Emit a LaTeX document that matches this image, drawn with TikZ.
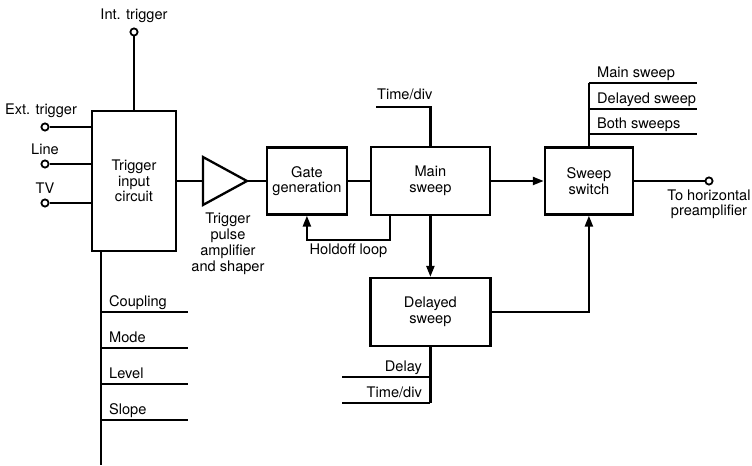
\documentclass[tikz,border=0pt]{standalone}
\usepackage{fontspec}
\setmainfont{TeX Gyre Heros}
\usetikzlibrary{arrows.meta,positioning,calc}

\begin{document}
\begin{tikzpicture}[
    x=1pt, y=1pt,
    font=\fontsize{7.3}{7.8}\selectfont,
    line width=1.15pt,
    blk/.style={rectangle, draw, align=center, inner sep=1pt},
    term/.style={circle, draw, fill=white, line width=0.9pt, inner sep=0pt, minimum size=3.6pt},
    lbl/.style={inner sep=1pt, align=center},
    arr/.style={-{Triangle[length=5.5pt, width=4pt]}}
]
    \useasboundingbox (0,0) rectangle (376,233);

    % main chain
    \node [blk, minimum width=42pt, minimum height=70pt] (trig) at (67,142.5) {Trigger\\input\\circuit};
    \coordinate (ampin) at ($(trig.east)+(12.9pt,0)$);
    \coordinate (ampout) at ($(ampin)+(22pt,0)$);
    \draw [line join=miter] ($(ampin)+(0,12pt)$) -- (ampout) -- ($(ampin)+(0,-12pt)$) -- cycle;
    \node [blk, minimum width=40pt, minimum height=33.5pt, right=9.4pt of ampout] (gate) {Gate\\generation};
    \node [blk, minimum width=59.5pt, minimum height=34pt, right=10.85pt of gate] (msweep) {Main\\sweep};
    \node [blk, minimum width=44pt, minimum height=33.5pt, right=26.35pt of msweep] (swsw) {Sweep\\switch};
    \node [blk, minimum width=60pt, minimum height=34pt, below=30.35pt of msweep] (dsweep) {Delayed\\sweep};
    \node [lbl, anchor=north, font=\fontsize{7.3}{8}\selectfont] (amplbl) at ($(ampin)+(12.5pt,-14.5pt)$) {Trigger\\pulse\\amplifier\\and shaper};

    % trigger inputs
    \node [term] (int) at (67,217) {};
    \node [term] (ext) at (22.5,169.5) {};
    \node [term] (line) at (22.5,151) {};
    \node [term] (tv) at (22.5,131.5) {};
    \node [lbl, above=1pt of int] {Int. trigger};
    \node [lbl, above=1pt of ext, xshift=-2pt] {Ext. trigger};
    \node [lbl, above=1pt of line] {Line};
    \node [lbl, above=1pt of tv] {TV};
    \draw (int) -- (int |- trig.north);
    \draw (ext) -- (ext -| trig.west);
    \draw (line) -- (line -| trig.west);
    \draw (tv) -- (tv -| trig.west);

    % trigger controls
    \coordinate (tbus) at ($(trig.south west)+(5pt,0)$);
    \draw (tbus) -- (tbus |- 0,0.5);
    \foreach \name/\yy in {Coupling/77, Mode/59, Level/41, Slope/23} {
        \draw (tbus |- 0,\yy) -- (94,\yy);
        \node [anchor=base west, inner sep=0pt] at (54,\yy+2.7) {\name};
    }

    % signal path
    \draw (trig) -- (ampin);
    \draw (ampout) -- (gate);
    \draw (gate) -- (msweep);
    \draw [arr] (msweep) -- (swsw);
    \draw [arr] (msweep) -- (dsweep);
    \draw [arr] (dsweep.east) -| (swsw.south);

    % holdoff loop
    \coordinate (hold) at (195,113);
    \draw [arr] (hold |- msweep.south) -- (hold) -- node [lbl, below=0.5pt] {Holdoff loop} (hold -| gate.south) -- (gate.south);

    % main sweep time/div
    \coordinate (mtd) at (188,179.5);
    \draw (msweep.north) |- (mtd);
    \node [anchor=base west, inner sep=0pt] at (188,183) {Time/div};

    % sweep switch modes
    \draw (swsw.north) -- (swsw.north |- 0,191.5);
    \foreach \name/\yy in {Main sweep/191.5, Delayed sweep/178.5, Both sweeps/166} {
        \draw (swsw.north |- 0,\yy) -- (348.5,\yy);
        \node [anchor=base west, inner sep=0pt] at (298,\yy+2.8) {\name};
    }

    % output
    \node [term] (out) at (354.5,142.5) {};
    \draw (swsw) -- (out);
    \node [lbl, below=0.5pt of out] {To horizontal\\preamplifier};

    % delayed sweep controls
    \draw (dsweep.south) -- (dsweep.south |- 0,31.5);
    \foreach \name/\yy in {Delay/44.5, {Time/div}/31.5} {
        \draw (171,\yy) -- (dsweep.south |- 0,\yy);
        \node [anchor=base east, inner sep=0pt] at (211.5,\yy+2.7) {\name};
    }
\end{tikzpicture}
\end{document}
